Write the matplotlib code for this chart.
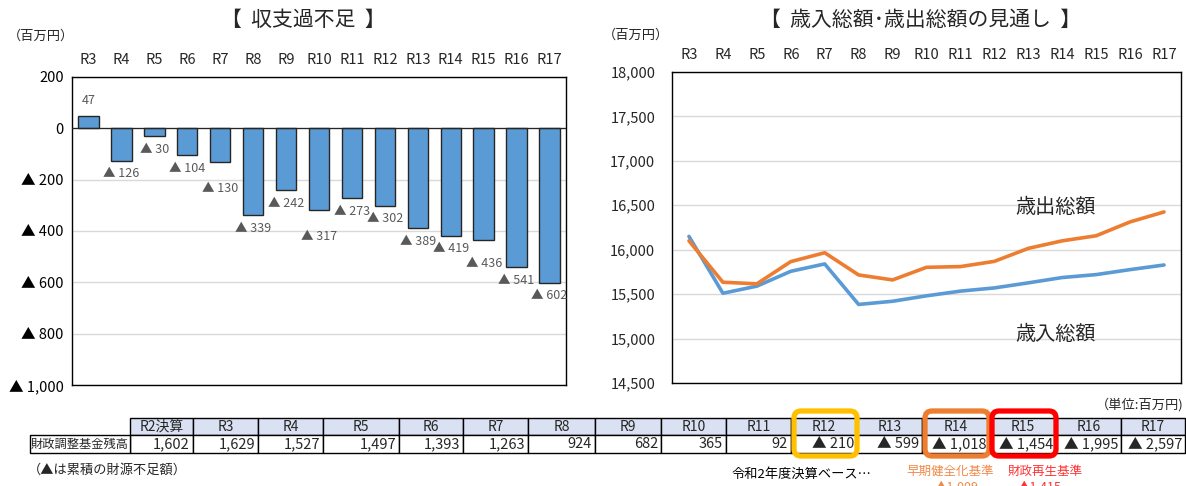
import matplotlib
matplotlib.use("Agg")
import matplotlib.pyplot as plt
from matplotlib.patches import Rectangle, FancyBboxPatch
import numpy as np

plt.rcParams['font.family'] = ['Noto Sans CJK JP', 'DejaVu Sans']

# --- data (百万円) ---
years = ['R3', 'R4', 'R5', 'R6', 'R7', 'R8', 'R9', 'R10', 'R11', 'R12', 'R13', 'R14', 'R15', 'R16', 'R17']
balance = [47, -126, -30, -104, -130, -339, -242, -317, -273, -302, -389, -419, -436, -541, -602]
revenue = [16150, 15510, 15590, 15757, 15840, 15384, 15420, 15481, 15534, 15570, 15627, 15687, 15720, 15776, 15828]
expenditure = [16100, 15634, 15616, 15866, 15966, 15716, 15660, 15802, 15810, 15869, 16015, 16100, 16157, 16313, 16425]
fund_cols = ['R2決算', 'R3', 'R4', 'R5', 'R6', 'R7', 'R8', 'R9', 'R10', 'R11', 'R12', 'R13', 'R14', 'R15', 'R16', 'R17']
fund_balance = [1602, 1629, 1527, 1497, 1393, 1263, 924, 682, 365, 92, -210, -599, -1018, -1454, -1995, -2597]

BLUE = '#5B9BD5'
ORANGE = '#ED7D31'
DARK = '#262626'

W, H = 1186, 486
fig = plt.figure(figsize=(W / 100, H / 100), dpi=100)


def px_axes(x0, y0, x1, y1):
    return fig.add_axes([x0 / W, 1 - y1 / H, (x1 - x0) / W, (y1 - y0) / H])


def tri(v, sep=' '):
    return f'▲{sep}{abs(v):,}' if v < 0 else f'{v:,}'


x = np.arange(len(years))

# ---------- 収支過不足 ----------
ax1 = px_axes(72, 77, 566, 385)
ax1.bar(x, balance, width=0.62, color=BLUE, edgecolor=DARK, linewidth=1, zorder=3)
ax1.axhline(0, color=DARK, lw=0.9, zorder=4)
ax1.set_xlim(-0.5, len(years) - 0.5)
ax1.set_ylim(-1000, 200)
yt = list(range(-1000, 201, 200))
ax1.set_yticks(yt)
ax1.set_yticklabels([tri(v) for v in yt])
ax1.yaxis.grid(True, color='#D9D9D9', lw=1)
ax1.set_axisbelow(True)
ax1.xaxis.tick_top()
ax1.set_xticks(x)
ax1.set_xticklabels(years)
ax1.tick_params(length=0, labelsize=10.5, colors=DARK)
ax1.tick_params(axis='y', colors='black', pad=6)
ax1.tick_params(axis='x', pad=7)
for sp in ax1.spines.values():
    sp.set_color('black')
    sp.set_linewidth(1)

# extra drop (px) for labels that would collide
nudge = {4: 14, 7: 14, 12: 10}
for i, v in enumerate(balance):
    if v >= 0:
        off = 16
    else:
        off = -(13 + nudge.get(i, 0))
    ax1.annotate(tri(v), (i, v), xytext=(0, off * 0.72), textcoords='offset points',
                 ha='center', va='center', fontsize=9, color='#595959')

# ---------- 歳入総額・歳出総額 ----------
ax2 = px_axes(672, 72, 1181, 383)
ax2.plot(x, revenue, color=BLUE, lw=2.6, solid_capstyle='round')
ax2.plot(x, expenditure, color=ORANGE, lw=2.6, solid_capstyle='round')
ax2.set_xlim(-0.5, len(years) - 0.5)
ax2.set_ylim(14500, 18000)
yt2 = list(range(14500, 18001, 500))
ax2.set_yticks(yt2)
ax2.set_yticklabels([f'{v:,}' for v in yt2])
ax2.yaxis.grid(True, color='#D9D9D9', lw=1)
ax2.set_axisbelow(True)
ax2.xaxis.tick_top()
ax2.set_xticks(x)
ax2.set_xticklabels(years)
ax2.tick_params(length=0, labelsize=10.5, colors=DARK)
ax2.tick_params(axis='x', pad=7)
ax2.tick_params(axis='y', pad=12)
for sp in ax2.spines.values():
    sp.set_color('black')
    sp.set_linewidth(1)
ax2.text(10.8, 16475, '歳出総額', ha='center', va='center', fontsize=14.5, color=DARK)
ax2.text(10.8, 15050, '歳入総額', ha='center', va='center', fontsize=14.5, color=DARK)

# ---------- overlay in pixel coordinates: titles, table, notes ----------
ov = fig.add_axes([0, 0, 1, 1], facecolor='none')
ov.set_xlim(0, W)
ov.set_ylim(H, 0)
ov.axis('off')

ov.text(303, 20, '【  収支過不足  】', ha='center', va='center', fontsize=15, color=DARK)
ov.text(921, 20, '【  歳入総額･歳出総額の見通し  】', ha='center', va='center', fontsize=15, color=DARK)
ov.text(8, 36, '（百万円）', ha='left', va='center', fontsize=9.5, color=DARK)
ov.text(603, 35, '（百万円）', ha='left', va='center', fontsize=9.5, color=DARK)
ov.text(1184, 405, '（単位:百万円)', ha='right', va='center', fontsize=9.5, color=DARK)

edges = [130, 193, 258, 323, 399, 463, 528, 595, 661, 726, 791, 857, 922, 989, 1056, 1121, 1185]
top, mid, bot = 418, 435, 453
for i, (name, v) in enumerate(zip(fund_cols, fund_balance)):
    x0, x1 = edges[i], edges[i + 1]
    ov.add_patch(Rectangle((x0, top), x1 - x0, mid - top, facecolor='#D9E1F2', edgecolor='black', lw=1))
    ov.add_patch(Rectangle((x0, mid), x1 - x0, bot - mid, facecolor='white', edgecolor='black', lw=1))
    ov.text((x0 + x1) / 2, (top + mid) / 2, name, ha='center', va='center', fontsize=10, color=DARK)
    ov.text(x1 - 3, (mid + bot) / 2, tri(v), ha='right', va='center', fontsize=10.5, color=DARK)
ov.add_patch(Rectangle((30, mid), 100, bot - mid, facecolor='white', edgecolor='black', lw=1))
ov.text(80, (mid + bot) / 2, '財政調整基金残高', ha='center', va='center', fontsize=8.8, color=DARK)

# highlighted years
for idx, col in [(10, '#FFC000'), (12, ORANGE), (13, '#FF0000')]:
    x0, x1 = edges[idx], edges[idx + 1]
    ov.add_patch(FancyBboxPatch((x0 + 3, 411), x1 - x0 - 3, 45,
                                boxstyle='round,pad=0,rounding_size=7',
                                facecolor='none', edgecolor=col, lw=3.8, zorder=5))

ov.text(28, 470, '（▲は累積の財源不足額）', ha='left', va='center', fontsize=9.5, color=DARK)
ov.text(802, 474, '令和2年度決算ベース…', ha='center', va='center', fontsize=9.5, color='black')
ov.text(950, 471, '早期健全化基準', ha='center', va='center', fontsize=9, color='#F08A4B')
ov.text(1045, 471, '財政再生基準', ha='center', va='center', fontsize=9, color='#FF3333')
ov.text(957, 481, '▲1,009', ha='center', va='top', fontsize=9, color='#F08A4B')
ov.text(1040, 481, '▲1,415', ha='center', va='top', fontsize=9, color='#FF3333')

fig.savefig('out.png', dpi=100)
